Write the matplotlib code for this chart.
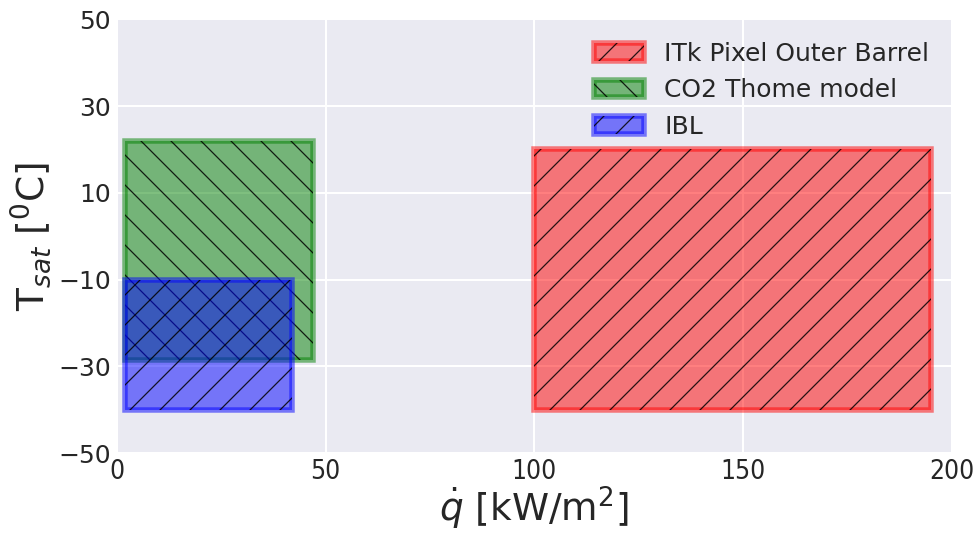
import matplotlib
matplotlib.use("Agg")
import matplotlib.pyplot as plt
import seaborn as sns
from matplotlib.patches import Rectangle

sns.set_style("darkgrid")
plt.rcParams['font.family'] = ['DejaVu Sans']
plt.rcParams['hatch.linewidth'] = 0.5
plt.rcParams['grid.linewidth'] = 0.8

labels = ["ITk Pixel Outer Barrel", "CO2 Thome model", "IBL"]
x_lo = [100, 2, 2]
x_hi = [195, 47, 42]
y_lo = [-40, -28.5, -40]
y_hi = [20, 22, -10]
colors = ["red", "green", "blue"]
hatches = ["//", "\\\\", "//"]

x_ticks = [0, 50, 100, 150, 200]
y_ticks = [-50, -30, -10, 10, 30, 50]

dpi = 180
fig = plt.figure(figsize=(976 / dpi, 535 / dpi), dpi=dpi)
ax = fig.add_axes([0.12, 0.153, 0.855, 0.811])

handles = []
for lab, x0, x1, y0, y1, c, h in zip(labels, x_lo, x_hi, y_lo, y_hi, colors, hatches):
    p1 = Rectangle((x0, y0), x1 - x0, y1 - y0, facecolor=c, edgecolor=c,
                   alpha=0.5, linewidth=2.2)
    p2 = Rectangle((x0, y0), x1 - x0, y1 - y0, fill=False, hatch=h,
                   edgecolor=(0, 0, 0, 0.85), linewidth=0)
    ax.add_patch(p1)
    ax.add_patch(p2)
    handles.append((p1, p2))

ax.set_xlim(0, 200)
ax.set_ylim(-50, 50)
ax.set_xticks(x_ticks)
ax.set_yticks(y_ticks)
ax.set_xticklabels([str(v) for v in x_ticks], fontsize=10.5, fontstretch='condensed')
ax.set_yticklabels([str(v).replace('-', '\u2212') for v in y_ticks], fontsize=10)
ax.tick_params(axis='both', colors='#262626', length=0)
ax.tick_params(axis='x', pad=2.5)
ax.tick_params(axis='y', pad=2.5)
ax.set_xlabel(r"$\dot{q}$ [kW/m$^2$]", fontsize=15, labelpad=0)
ax.set_ylabel(r"T$_{sat}$ [$^0$C]", fontsize=15, labelpad=2)

leg = ax.legend(handles, labels, loc="upper right", fontsize=10, frameon=False)

fig.savefig("out.png", dpi=dpi)
